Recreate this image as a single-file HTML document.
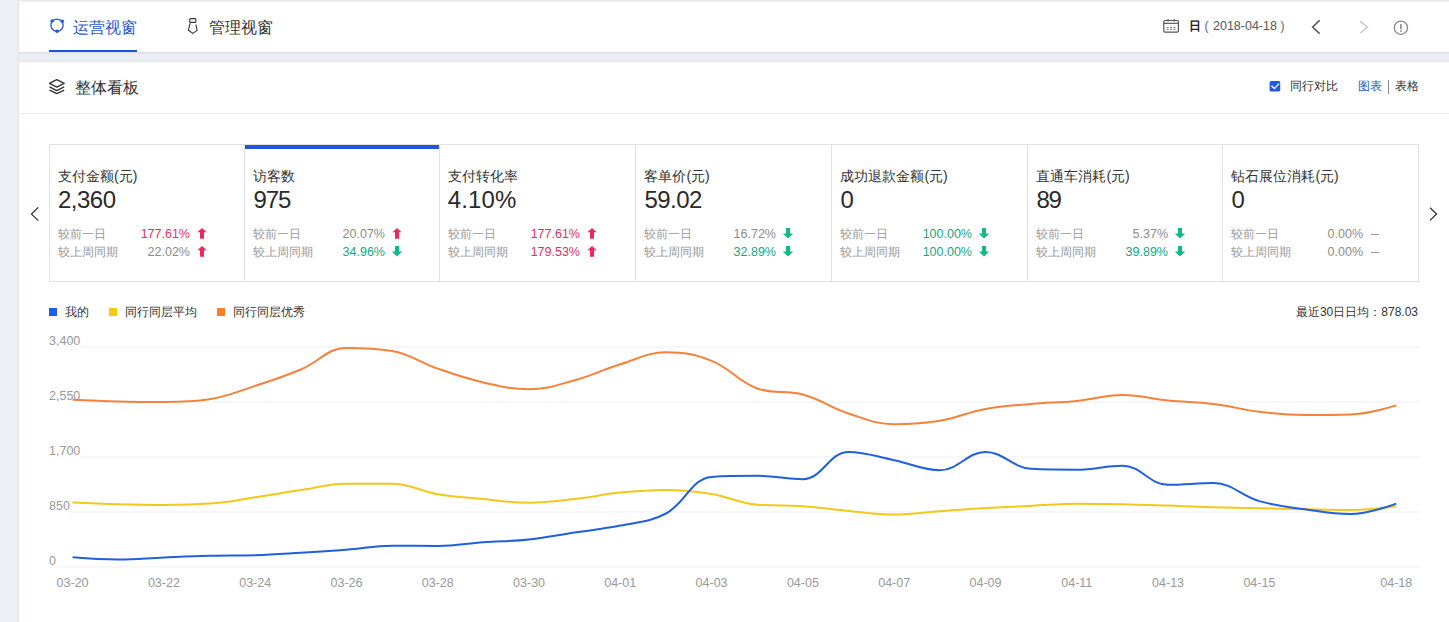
<!DOCTYPE html>
<html><head><meta charset="utf-8">
<style>
*{margin:0;padding:0;box-sizing:border-box}
html,body{width:1449px;height:622px;overflow:hidden}
body{background:#edf0f5;font-family:"Liberation Sans",sans-serif;color:#333;position:relative}
.abs{position:absolute}
#strip{position:absolute;left:16px;top:0;width:1433px;height:2px;background:linear-gradient(#ebebee 0 1px,#f1f1f3 1px 2px)}
#lsh{position:absolute;left:16px;top:0;width:3px;height:622px;background:linear-gradient(to right,#eeeff3 0 1px,#e9eaee 1px 2px,#e6e7eb 2px 3px)}
#c1{position:absolute;left:19px;top:2px;width:1430px;height:50px;background:#fff}
#gap{position:absolute;left:19px;top:52px;width:1430px;height:10px;background:linear-gradient(to bottom,#dcdfe4 0 1px,#e3e6ec 1px 2px,#e7eaf2 2px 3px,#eaeef7 3px 6px,#edf0f5 6px 7px,#ebedf0 7px 8px,#e8e9ec 8px 9px,#e6e7ea 9px 10px)}
#c2{position:absolute;left:19px;top:62px;width:1430px;height:560px;background:#fff}
#hline{position:absolute;left:19px;top:113px;width:1430px;height:1px;background:#ececec}
.tab{position:absolute;top:17px;font-size:16px;line-height:22px;white-space:nowrap}
#tab1{left:73px;color:#2b58d0}
#tab2{left:209px;color:#333}
#tabline{position:absolute;left:49px;top:50px;width:88px;height:2px;background:#1f52d6}
#ttl{position:absolute;left:75px;top:77px;font-size:16px;line-height:22px;color:#333}
.t12{position:absolute;font-size:12px;line-height:16px;white-space:nowrap}
#box{position:absolute;left:49px;top:144px;width:1370px;height:138px;border:1px solid #e2e2e2}
#act{position:absolute;left:245px;top:145px;width:195px;height:4px;background:#2457d6}
.vdiv{position:absolute;top:145px;width:1px;height:136px;background:#e2e2e2}
.kt{position:absolute;top:166px;font-size:14px;line-height:20px;color:#333;white-space:nowrap}
.kv{position:absolute;top:186px;font-size:24px;line-height:28px;color:#2a2a2a;white-space:nowrap}
.kl{position:absolute;font-size:12px;line-height:16px;color:#999;white-space:nowrap}
.kp{position:absolute;width:101px;text-align:right;font-size:12.5px;line-height:16px;white-space:nowrap}
.r{color:#d9365f} .g0{color:#8c8c8c} .gr{color:#1aa57e}
.arr{position:absolute}
.dash{position:absolute;width:8px;height:1px;background:#999}
.yl{position:absolute;left:49px;font-size:12.5px;line-height:16px;color:#999;background:#fff}
.xl{position:absolute;top:575px;width:60px;text-align:center;font-size:12.5px;line-height:16px;color:#999}
.sq{position:absolute;top:308px;width:8px;height:8px}
</style></head><body>
<div id="strip"></div><div id="lsh"></div>
<div id="c1"></div><div id="gap"></div><div id="c2"></div>
<div id="hline"></div>

<!-- tabs -->
<svg class="abs" style="left:0;top:0" width="300" height="52">
 <circle cx="57" cy="25.2" r="6.1" fill="none" stroke="#2b58d0" stroke-width="1.3"/>
 <circle cx="52.1" cy="21" r="1.8" fill="#2b58d0"/>
 <circle cx="62.3" cy="21.2" r="1.8" fill="#2b58d0"/>
 <circle cx="57.1" cy="31.2" r="1.8" fill="#2b58d0"/>
 <rect x="189.7" y="18.6" width="6.2" height="3.8" rx="1" fill="none" stroke="#333" stroke-width="1.1"/>
 <path d="M190.2 23.2 L188.4 30.2 L192.8 33.4 L197.2 30.4 L195.8 24.6" fill="none" stroke="#333" stroke-width="1.1" stroke-linejoin="round"/>
</svg>
<div class="tab" id="tab1">运营视窗</div>
<div class="tab" id="tab2">管理视窗</div>
<div id="tabline"></div>

<!-- right of top bar -->
<svg class="abs" style="left:1150px;top:0" width="299" height="52">
 <rect x="13.8" y="20.5" width="14.6" height="11.7" rx="1.2" fill="none" stroke="#555" stroke-width="1.2"/>
 <line x1="13.8" y1="23.3" x2="28.4" y2="23.3" stroke="#555" stroke-width="1.2"/>
 <line x1="18" y1="19" x2="18" y2="21.5" stroke="#555" stroke-width="1.2"/>
 <line x1="24.2" y1="19" x2="24.2" y2="21.5" stroke="#555" stroke-width="1.2"/>
 <path d="M16.5 27.4h2.2M19.9 27.4h2.2M23.3 27.4h2.2M16.5 29.3h2.2M19.9 29.3h2.2M23.3 29.3h2.2" stroke="#666" stroke-width="0.9"/>
 <path d="M169.6 20.4 L162.6 27 L169.6 33.6" fill="none" stroke="#555" stroke-width="1.5"/>
 <path d="M210.4 21.4 L217.4 27.2 L210.4 33" fill="none" stroke="#c8c8c8" stroke-width="1.5"/>
 <circle cx="250.9" cy="27.7" r="6.6" fill="none" stroke="#8a8a8a" stroke-width="1.3"/>
 <line x1="250.9" y1="24" x2="250.9" y2="29.2" stroke="#8a8a8a" stroke-width="1.6"/>
 <rect x="250.1" y="30.2" width="1.6" height="1.6" fill="#8a8a8a"/>
</svg>
<div class="t12" style="left:1189px;top:18px;font-weight:bold;color:#222;font-size:12px">日</div>
<div class="t12" style="left:1204.6px;top:18px;color:#666">(</div><div class="t12" style="left:1213px;top:18px;color:#555;font-size:12.5px">2018-04-18</div><div class="t12" style="left:1280.4px;top:18px;color:#666">)</div>

<!-- card2 header -->
<svg class="abs" style="left:40px;top:70px" width="40" height="40">
 <path d="M9.5 13.3 L16.8 9.6 L24.2 13.3 L16.8 17.1 Z" fill="none" stroke="#333" stroke-width="1.3" stroke-linejoin="round"/>
 <path d="M9.5 16.9 L16.8 20.6 L24.2 16.9" fill="none" stroke="#333" stroke-width="1.3" stroke-linejoin="round"/>
 <path d="M9.5 20.2 L16.8 23.7 L24.2 20.2" fill="none" stroke="#333" stroke-width="1.3" stroke-linejoin="round"/>
</svg>
<div id="ttl">整体看板</div>
<svg class="abs" style="left:1269px;top:80px" width="12" height="12">
 <rect x="0.6" y="1" width="10.6" height="10.6" rx="1.5" fill="#2259e0"/>
 <path d="M2.4 5.8 L5.4 8.6 L10 3.6" fill="none" stroke="#fff" stroke-width="1.4"/>
</svg>
<div class="t12" style="left:1290px;top:78px">同行对比</div>
<div class="t12" style="left:1358px;top:78px;color:#2a5cc8">图表</div>
<div class="abs" style="left:1388px;top:80px;width:1px;height:14px;background:#888"></div>
<div class="t12" style="left:1395px;top:78px">表格</div>

<!-- KPI -->
<div id="box"></div>
<div id="act"></div>
<div class="kt" style="left:58.0px">支付金额(元)</div><div class="kv" style="left:58.0px;letter-spacing:-0.5px">2,360</div><div class="kl" style="left:58.0px;top:226px">较前一日</div><div class="kp r" style="left:89.0px;top:226px">177.61%</div><svg class="arr" style="left:196px;top:228px" width="12" height="11" viewBox="0 0 12 11"><path d="M6 0 L10.6 4.3 L8 4.3 L8 10.8 L4 10.8 L4 4.3 L1.4 4.3 Z" fill="#ea2a5c"/></svg><div class="kl" style="left:58.0px;top:244px">较上周同期</div><div class="kp g0" style="left:89.0px;top:244px">22.02%</div><svg class="arr" style="left:196px;top:246px" width="12" height="11" viewBox="0 0 12 11"><path d="M6 0 L10.6 4.3 L8 4.3 L8 10.8 L4 10.8 L4 4.3 L1.4 4.3 Z" fill="#ea2a5c"/></svg><div class="kt" style="left:253.4px">访客数</div><div class="kv" style="left:253.4px;letter-spacing:-1.05px">975</div><div class="kl" style="left:253.4px;top:226px">较前一日</div><div class="kp g0" style="left:284.0px;top:226px">20.07%</div><svg class="arr" style="left:391px;top:228px" width="12" height="11" viewBox="0 0 12 11"><path d="M6 0 L10.6 4.3 L8 4.3 L8 10.8 L4 10.8 L4 4.3 L1.4 4.3 Z" fill="#ea2a5c"/></svg><div class="kl" style="left:253.4px;top:244px">较上周同期</div><div class="kp gr" style="left:284.0px;top:244px">34.96%</div><svg class="arr" style="left:391px;top:246px" width="12" height="11" viewBox="0 0 12 11"><path d="M6 10.6 L11.2 5.4 L8 5.4 L8 0 L4 0 L4 5.4 L0.8 5.4 Z" fill="#12b886"/></svg><div class="kt" style="left:448.4px">支付转化率</div><div class="kv" style="left:447.7px;letter-spacing:0.15px">4.10%</div><div class="kl" style="left:448.4px;top:226px">较前一日</div><div class="kp r" style="left:479.0px;top:226px">177.61%</div><svg class="arr" style="left:586px;top:228px" width="12" height="11" viewBox="0 0 12 11"><path d="M6 0 L10.6 4.3 L8 4.3 L8 10.8 L4 10.8 L4 4.3 L1.4 4.3 Z" fill="#ea2a5c"/></svg><div class="kl" style="left:448.4px;top:244px">较上周同期</div><div class="kp r" style="left:479.0px;top:244px">179.53%</div><svg class="arr" style="left:586px;top:246px" width="12" height="11" viewBox="0 0 12 11"><path d="M6 0 L10.6 4.3 L8 4.3 L8 10.8 L4 10.8 L4 4.3 L1.4 4.3 Z" fill="#ea2a5c"/></svg><div class="kt" style="left:644.4px">客单价(元)</div><div class="kv" style="left:644.4px;letter-spacing:-0.53px">59.02</div><div class="kl" style="left:644.4px;top:226px">较前一日</div><div class="kp g0" style="left:675.0px;top:226px">16.72%</div><svg class="arr" style="left:782px;top:228px" width="12" height="11" viewBox="0 0 12 11"><path d="M6 10.6 L11.2 5.4 L8 5.4 L8 0 L4 0 L4 5.4 L0.8 5.4 Z" fill="#12b886"/></svg><div class="kl" style="left:644.4px;top:244px">较上周同期</div><div class="kp gr" style="left:675.0px;top:244px">32.89%</div><svg class="arr" style="left:782px;top:246px" width="12" height="11" viewBox="0 0 12 11"><path d="M6 10.6 L11.2 5.4 L8 5.4 L8 0 L4 0 L4 5.4 L0.8 5.4 Z" fill="#12b886"/></svg><div class="kt" style="left:840.4px">成功退款金额(元)</div><div class="kv" style="left:840.4px;letter-spacing:0px">0</div><div class="kl" style="left:840.4px;top:226px">较前一日</div><div class="kp gr" style="left:871.0px;top:226px">100.00%</div><svg class="arr" style="left:978px;top:228px" width="12" height="11" viewBox="0 0 12 11"><path d="M6 10.6 L11.2 5.4 L8 5.4 L8 0 L4 0 L4 5.4 L0.8 5.4 Z" fill="#12b886"/></svg><div class="kl" style="left:840.4px;top:244px">较上周同期</div><div class="kp gr" style="left:871.0px;top:244px">100.00%</div><svg class="arr" style="left:978px;top:246px" width="12" height="11" viewBox="0 0 12 11"><path d="M6 10.6 L11.2 5.4 L8 5.4 L8 0 L4 0 L4 5.4 L0.8 5.4 Z" fill="#12b886"/></svg><div class="kt" style="left:1036.4px">直通车消耗(元)</div><div class="kv" style="left:1036.4px;letter-spacing:-1.3px">89</div><div class="kl" style="left:1036.4px;top:226px">较前一日</div><div class="kp g0" style="left:1067.0px;top:226px">5.37%</div><svg class="arr" style="left:1174px;top:228px" width="12" height="11" viewBox="0 0 12 11"><path d="M6 10.6 L11.2 5.4 L8 5.4 L8 0 L4 0 L4 5.4 L0.8 5.4 Z" fill="#12b886"/></svg><div class="kl" style="left:1036.4px;top:244px">较上周同期</div><div class="kp gr" style="left:1067.0px;top:244px">39.89%</div><svg class="arr" style="left:1174px;top:246px" width="12" height="11" viewBox="0 0 12 11"><path d="M6 10.6 L11.2 5.4 L8 5.4 L8 0 L4 0 L4 5.4 L0.8 5.4 Z" fill="#12b886"/></svg><div class="kt" style="left:1231.4px">钻石展位消耗(元)</div><div class="kv" style="left:1231.4px;letter-spacing:0px">0</div><div class="kl" style="left:1231.4px;top:226px">较前一日</div><div class="kp g0" style="left:1262.0px;top:226px">0.00%</div><div class="dash" style="left:1370.5px;top:233.5px"></div><div class="kl" style="left:1231.4px;top:244px">较上周同期</div><div class="kp g0" style="left:1262.0px;top:244px">0.00%</div><div class="dash" style="left:1370.5px;top:251.5px"></div><div class="vdiv" style="left:244.0px"></div><div class="vdiv" style="left:439.0px"></div><div class="vdiv" style="left:635.0px"></div><div class="vdiv" style="left:831.0px"></div><div class="vdiv" style="left:1027.0px"></div><div class="vdiv" style="left:1222.0px"></div>
<svg class="abs" style="left:0;top:190px" width="1449" height="50">
 <path d="M38.3 17.4 L31.5 24.1 L38.3 30.6" fill="none" stroke="#333" stroke-width="1.3"/>
 <path d="M1430 17.8 L1436.6 24 L1430 30.4" fill="none" stroke="#333" stroke-width="1.3"/>
</svg>

<!-- legend -->
<div class="sq" style="left:49px;background:#1f5fe0"></div>
<div class="t12" style="left:65px;top:304px">我的</div>
<div class="sq" style="left:109px;background:#f2cb12"></div>
<div class="t12" style="left:125px;top:304px">同行同层平均</div>
<div class="sq" style="left:217px;background:#f7802f"></div>
<div class="t12" style="left:233px;top:304px">同行同层优秀</div>
<div class="t12" style="right:31px;top:304px">最近30日日均：878.03</div>

<!-- chart -->
<svg class="abs" style="left:0;top:0" width="1449" height="622"><line x1="49" y1="347" x2="1420" y2="347" stroke="#efefef" stroke-width="1"/><line x1="49" y1="402" x2="1420" y2="402" stroke="#efefef" stroke-width="1"/><line x1="49" y1="457" x2="1420" y2="457" stroke="#efefef" stroke-width="1"/><line x1="49" y1="512" x2="1420" y2="512" stroke="#efefef" stroke-width="1"/><line x1="49" y1="567" x2="1420" y2="567" stroke="#efefef" stroke-width="1"/></svg>
<div class="yl" style="top:332.7px">3,400</div><div class="yl" style="top:387.7px">2,550</div><div class="yl" style="top:442.7px">1,700</div><div class="yl" style="top:497.7px">850</div><div class="yl" style="top:552.7px">0</div>
<svg class="abs" style="left:0;top:0" width="1449" height="622">
 <path d="M72.60 399.70 C72.60 399.70 99.98 400.96 118.25 401.40 C136.50 401.84 145.65 401.90 163.89 401.90 C182.16 401.90 191.63 401.90 209.53 399.20 C228.15 396.39 237.10 391.78 255.18 385.90 C273.62 379.90 282.94 376.95 300.83 369.50 C319.45 361.75 327.31 347.90 346.47 347.90 C363.83 347.90 374.48 347.90 392.12 350.90 C410.99 354.11 419.26 362.22 437.76 368.60 C455.78 374.82 464.85 378.19 483.40 382.40 C501.37 386.47 510.87 389.30 529.05 389.30 C547.38 389.30 556.78 385.11 574.70 380.20 C593.30 375.11 601.86 369.95 620.34 364.30 C638.38 358.79 647.58 352.30 665.99 352.30 C684.10 352.30 694.63 354.16 711.63 360.90 C731.15 368.64 737.68 381.55 757.28 388.50 C774.19 394.50 785.31 389.68 802.92 394.50 C821.83 399.68 829.82 407.40 848.57 413.50 C866.34 419.28 875.73 424.20 894.21 424.20 C912.25 424.20 921.87 423.80 939.86 420.80 C958.38 417.72 967.00 412.40 985.50 409.00 C1003.52 405.68 1012.85 405.62 1031.14 404.00 C1049.37 402.38 1058.59 402.69 1076.79 400.90 C1095.10 399.09 1104.17 395.00 1122.43 395.00 C1140.69 395.00 1149.78 398.80 1168.08 400.60 C1186.30 402.40 1195.57 401.77 1213.72 404.00 C1232.09 406.25 1241.00 409.61 1259.37 411.80 C1277.52 413.97 1286.74 414.90 1305.02 414.90 C1323.25 414.90 1332.58 414.90 1350.66 414.40 C1369.09 413.89 1396.31 405.40 1396.31 405.40" fill="none" stroke="#f5823a" stroke-width="2"/>
 <path d="M72.60 502.40 C72.60 502.40 99.98 503.70 118.25 504.20 C136.50 504.70 145.63 504.90 163.89 504.90 C182.15 504.90 191.36 504.90 209.53 503.60 C227.88 502.29 236.95 500.00 255.18 497.30 C273.46 494.60 282.54 492.80 300.83 490.10 C319.06 487.40 328.13 483.80 346.47 483.80 C364.64 483.80 374.09 483.80 392.12 483.80 C410.60 483.80 419.32 491.13 437.76 494.20 C455.84 497.21 465.13 497.28 483.40 499.00 C501.64 500.72 510.79 502.80 529.05 502.80 C547.31 502.80 556.49 501.03 574.70 499.00 C593.01 496.95 602.01 494.41 620.34 492.60 C638.52 490.81 647.75 490.00 665.99 490.00 C684.26 490.00 693.59 491.07 711.63 494.00 C730.10 496.99 738.77 503.36 757.28 504.80 C775.29 506.20 784.71 504.98 802.92 506.20 C821.22 507.42 830.29 509.24 848.57 510.90 C866.80 512.56 875.95 514.50 894.21 514.50 C912.46 514.50 921.60 512.50 939.86 511.20 C958.11 509.90 967.23 509.06 985.50 508.00 C1003.75 506.94 1012.89 506.76 1031.14 505.90 C1049.40 505.04 1058.52 503.70 1076.79 503.70 C1095.04 503.70 1104.18 503.82 1122.43 504.20 C1140.70 504.58 1149.82 504.98 1168.08 505.60 C1186.34 506.22 1195.46 506.76 1213.72 507.30 C1231.98 507.84 1241.11 507.90 1259.37 508.30 C1277.63 508.70 1286.76 508.96 1305.02 509.30 C1323.27 509.64 1332.43 510.00 1350.66 510.00 C1368.95 510.00 1396.31 506.20 1396.31 506.20" fill="none" stroke="#f2c81c" stroke-width="2"/>
 <path d="M72.60 557.30 C72.60 557.30 99.99 559.50 118.25 559.50 C136.50 559.50 145.63 558.16 163.89 557.40 C182.14 556.64 191.27 556.14 209.53 555.70 C227.79 555.26 236.93 555.70 255.18 555.20 C273.45 554.70 282.58 553.90 300.83 552.80 C319.09 551.70 328.23 551.12 346.47 549.70 C364.74 548.28 373.82 545.70 392.12 545.70 C410.34 545.70 419.53 545.90 437.76 545.90 C456.05 545.90 465.14 543.60 483.40 542.30 C501.65 541.00 510.88 541.35 529.05 539.40 C547.39 537.43 556.44 535.26 574.70 532.50 C592.95 529.74 602.29 529.36 620.34 525.60 C638.80 521.76 649.68 522.20 665.99 513.50 C686.19 502.72 691.12 478.31 711.63 476.90 C727.64 475.80 739.04 475.80 757.28 475.80 C775.56 475.80 786.03 479.20 802.92 479.20 C822.55 479.20 829.06 451.90 848.57 451.90 C865.58 451.90 876.02 456.55 894.21 460.20 C912.53 463.87 922.06 470.20 939.86 470.20 C958.58 470.20 967.15 451.90 985.50 451.90 C1003.66 451.90 1012.30 467.84 1031.14 468.80 C1048.82 469.70 1058.57 469.70 1076.79 469.70 C1095.08 469.70 1104.88 465.70 1122.43 465.70 C1141.39 465.70 1149.09 484.80 1168.08 484.80 C1185.61 484.80 1196.12 483.10 1213.72 483.10 C1232.64 483.10 1240.60 495.71 1259.37 501.10 C1277.11 506.19 1286.66 506.71 1305.02 509.30 C1323.18 511.87 1332.58 514.00 1350.66 514.00 C1369.10 514.00 1396.31 503.60 1396.31 503.60" fill="none" stroke="#2060d9" stroke-width="2"/>
</svg>
<div class="xl" style="left:42.6px">03-20</div><div class="xl" style="left:133.9px">03-22</div><div class="xl" style="left:225.2px">03-24</div><div class="xl" style="left:316.5px">03-26</div><div class="xl" style="left:407.8px">03-28</div><div class="xl" style="left:499.1px">03-30</div><div class="xl" style="left:590.3px">04-01</div><div class="xl" style="left:681.6px">04-03</div><div class="xl" style="left:772.9px">04-05</div><div class="xl" style="left:864.2px">04-07</div><div class="xl" style="left:955.5px">04-09</div><div class="xl" style="left:1046.8px">04-11</div><div class="xl" style="left:1138.1px">04-13</div><div class="xl" style="left:1229.4px">04-15</div><div class="xl" style="left:1366.3px">04-18</div>
</body></html>
